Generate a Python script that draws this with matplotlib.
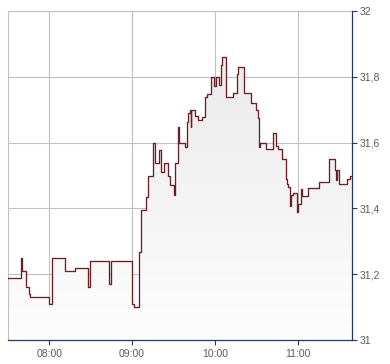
import numpy as np
import matplotlib
matplotlib.use("Agg")
import matplotlib.pyplot as plt
from matplotlib.colors import LinearSegmentedColormap
from matplotlib.patches import PathPatch

# intraday price, step series; time in minutes after midnight
minutes = [450.0, 459.7, 460.4, 463.3, 465.3, 466.2, 480.0, 482.2, 491.6, 498.8,
           508.3, 509.7, 523.5, 524.9, 540.1, 541.6, 544.8, 546.7, 550.3, 551.7,
           555.1, 556.8, 559.3, 560.7, 563.1, 566.0, 567.5, 570.4, 571.3, 573.3,
           574.0, 578.3, 579.6, 580.3, 582.2, 582.5, 582.9, 585.6, 587.5, 590.6,
           592.8, 594.3, 597.4, 599.2, 601.0, 603.3, 604.4, 605.4, 608.3, 613.1,
           616.4, 617.1, 621.1, 626.2, 629.9, 631.0, 632.2, 632.7, 636.8, 642.3,
           644.3, 645.5, 648.4, 651.3, 652.5, 653.2, 654.8, 655.3, 656.6, 659.7,
           660.4, 662.4, 663.3, 667.7, 675.6, 682.7, 687.5, 688.2, 688.8, 689.9,
           695.9, 698.4]
prices = [31.187, 31.248, 31.210, 31.160, 31.140, 31.130, 31.108, 31.248, 31.209, 31.218,
          31.160, 31.239, 31.169, 31.239, 31.109, 31.100, 31.268, 31.395, 31.435, 31.498,
          31.598, 31.539, 31.579, 31.512, 31.539, 31.498, 31.470, 31.440, 31.539, 31.646,
          31.598, 31.588, 31.664, 31.691, 31.699, 31.648, 31.699, 31.681, 31.669, 31.679,
          31.738, 31.748, 31.800, 31.772, 31.800, 31.775, 31.836, 31.861, 31.738, 31.750,
          31.810, 31.829, 31.750, 31.720, 31.700, 31.676, 31.588, 31.598, 31.580, 31.628,
          31.590, 31.580, 31.549, 31.488, 31.474, 31.466, 31.408, 31.440, 31.448, 31.388,
          31.413, 31.458, 31.438, 31.461, 31.479, 31.550, 31.517, 31.486, 31.517, 31.473,
          31.488, 31.498]

x_ticks = [480, 540, 600, 660]
x_labels = ["08:00", "09:00", "10:00", "11:00"]
y_ticks = [31.0, 31.2, 31.4, 31.6, 31.8, 32.0]
y_labels = ["31", "31,2", "31,4", "31,6", "31,8", "32"]

x_min, x_max = 450.0, 699.5
y_min, y_max = 31.0, 32.0

plt.rcParams["font.family"] = ["Liberation Sans", "DejaVu Sans"]
line_col = "#6b1f24"
axis_col = "#1f3866"
grid_col = "#c0c0c0"
text_col = "#5a5a5a"

fig = plt.figure(figsize=(3.9, 3.64), dpi=100)
ax = fig.add_axes([8 / 390, 24 / 364, 344 / 390, 329 / 364])

t = minutes + [x_max]
p = prices + [prices[-1]]

# gradient fill under the step line
cmap = LinearSegmentedColormap.from_list("fade", ["#fdfdfd", "#e8e8e8"])
grad = np.linspace(0, 1, 256).reshape(-1, 1)
im = ax.imshow(grad, extent=[x_min, x_max, y_min, y_max], origin="lower",
               cmap=cmap, aspect="auto", zorder=1, interpolation="bilinear")
poly = ax.fill_between(t, p, y_min, step="post", facecolor="none", edgecolor="none")
clip = PathPatch(poly.get_paths()[0], transform=ax.transData,
                 facecolor="none", edgecolor="none")
ax.add_patch(clip)
im.set_clip_path(clip)

ax.plot(t, p, drawstyle="steps-post", color=line_col, lw=0.95, zorder=3)

ax.set_xlim(x_min, x_max)
ax.set_ylim(y_min, y_max)
ax.set_xticks(x_ticks, x_labels)
ax.set_yticks(y_ticks, y_labels)
ax.yaxis.tick_right()
ax.grid(True, color=grid_col, lw=0.8, zorder=0)
ax.set_axisbelow(True)

for side in ("top", "left"):
    ax.spines[side].set_color(grid_col)
    ax.spines[side].set_linewidth(0.8)
for side in ("right", "bottom"):
    ax.spines[side].set_color(axis_col)
    ax.spines[side].set_linewidth(0.9)
    ax.spines[side].set_zorder(4)

ax.tick_params(axis="both", direction="out", length=3.5, width=0.8,
               color=axis_col, labelcolor=text_col, labelsize=7.5)
ax.tick_params(axis="x", pad=3)
ax.tick_params(axis="y", pad=2)

fig.savefig("out.png", dpi=100)
